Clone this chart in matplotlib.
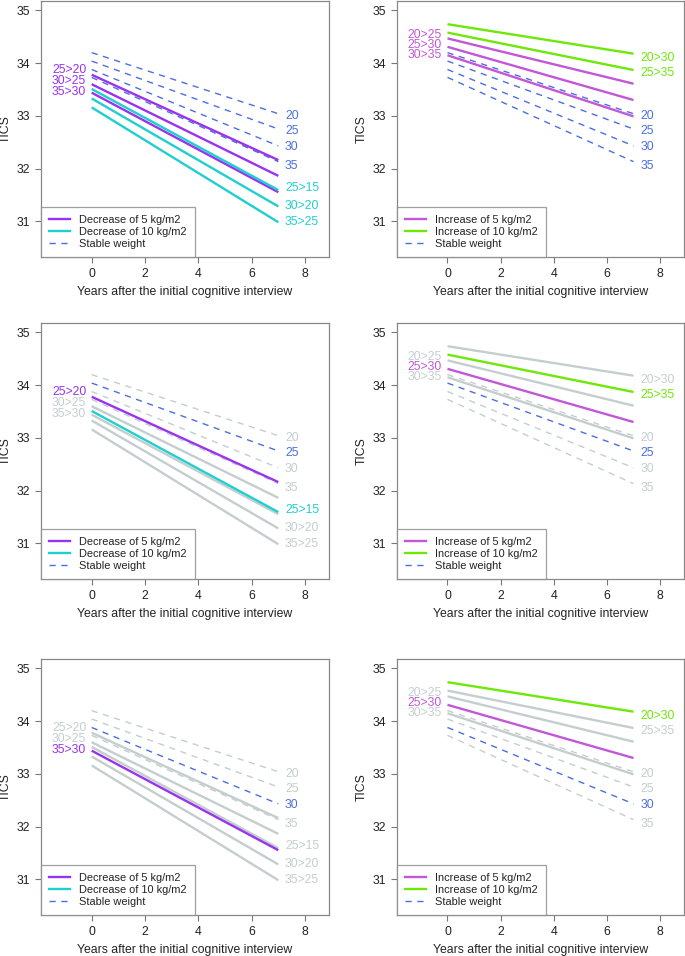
import matplotlib.pyplot as plt

plt.rcParams['font.family'] = ['Liberation Sans', 'DejaVu Sans']

# years of follow-up (start and end of each predicted line)
years = [0, 7]

# stable weight, BMI 20 / 25 / 30 / 35
stable_names = ["20", "25", "30", "35"]
stable_start = [34.20, 34.04, 33.88, 33.73]
stable_end = [33.04, 32.75, 32.43, 32.13]

# decrease of 5 kg/m2
dec5_names = ["25>20", "30>25", "35>30"]
dec5_start = [33.78, 33.60, 33.44]
dec5_end = [32.16, 31.86, 31.55]

# decrease of 10 kg/m2
dec10_names = ["25>15", "30>20", "35>25"]
dec10_start = [33.51, 33.33, 33.16]
dec10_end = [31.59, 31.28, 30.98]

# increase of 5 kg/m2
inc5_names = ["20>25", "25>30", "30>35"]
inc5_start = [34.47, 34.31, 34.15]
inc5_end = [33.61, 33.30, 32.99]

# increase of 10 kg/m2
inc10_names = ["20>30", "25>35"]
inc10_start = [34.74, 34.58]
inc10_end = [34.18, 33.87]

# where the text labels sit (y)
stable_lab_y = [33.00, 32.71, 32.41, 32.05]
dec5_lab_y = [33.87, 33.66, 33.46]
dec10_lab_y = [31.63, 31.28, 30.98]
inc5_lab_y = [34.54, 34.34, 34.15]
inc10_lab_y = [34.10, 33.82]

C_DEC5 = "#9933ee"
C_DEC10 = "#1fcfcf"
C_STABLE = "#4a6fe0"
C_INC5 = "#c257d8"
C_INC10 = "#6ee80a"
C_GRAY = "#c4cece"
FS = 8.8
LEG_FS = 7.9
LW = 1.7
DASH = (0, (4.5, 4))


def draw_panel(ax, groups, stable_hl, legend_items):
    # groups: list of (names, start, end, lab_y, color, side, highlighted-names)
    # gray stuff first so coloured lines end up on top
    for i, nm in enumerate(stable_names):
        col = C_STABLE if (stable_hl is None or nm in stable_hl) else C_GRAY
        ax.plot(years, [stable_start[i], stable_end[i]], color=col,
                lw=1.0, linestyle=DASH, zorder=2 if col == C_GRAY else 4)
        ax.text(7.25, stable_lab_y[i], nm, color=col, fontsize=FS,
                ha="left", va="center")

    for names, st, en, laby, color, side, hl in groups:
        for i, nm in enumerate(names):
            col = color if (hl is None or nm in hl) else C_GRAY
            ax.plot(years, [st[i], en[i]], color=col, lw=LW,
                    solid_capstyle="butt", zorder=3 if col == C_GRAY else 5)
            if side == "left":
                ax.text(-0.2, laby[i], nm, color=col, fontsize=FS,
                        ha="right", va="center")
            else:
                ax.text(7.25, laby[i], nm, color=col, fontsize=FS,
                        ha="left", va="center")

    ax.set_xlim(-1.9, 8.9)
    ax.set_ylim(30.32, 35.18)
    ax.set_xticks([0, 2, 4, 6, 8])
    ax.set_yticks([31, 32, 33, 34, 35])
    ax.tick_params(direction="out", length=4.5, width=0.8, color="#777777",
                   labelsize=FS, labelcolor="#222222", pad=3.5)
    for sp in ax.spines.values():
        sp.set_color("#888888")
        sp.set_linewidth(0.9)
    ax.set_xlabel("Years after the initial cognitive interview",
                  fontsize=FS, color="#222222", va="center")
    ax.set_ylabel("TICS", fontsize=FS, color="#222222", va="center")
    ax.xaxis.set_label_coords(0.5, -0.137)
    ax.yaxis.set_label_coords(-0.122, 0.5)

    handles = []
    for lab, col, ls, lw in legend_items:
        h, = ax.plot([], [], color=col, linestyle=ls, lw=lw, label=lab)
        handles.append(h)
    leg = ax.legend(handles=handles, loc="lower left", borderaxespad=0,
                    fontsize=LEG_FS, frameon=True, fancybox=False,
                    handlelength=1.9, handletextpad=0.9, borderpad=0.7,
                    labelspacing=0.2)
    leg.get_frame().set_edgecolor("#888888")
    leg.get_frame().set_linewidth(0.9)
    for t in leg.get_texts():
        t.set_color("#222222")


dec_legend = [("Decrease of 5 kg/m2", C_DEC5, "-", LW),
              ("Decrease of 10 kg/m2", C_DEC10, "-", LW),
              ("Stable weight", C_STABLE, DASH, 1.0)]
inc_legend = [("Increase of 5 kg/m2", C_INC5, "-", LW),
              ("Increase of 10 kg/m2", C_INC10, "-", LW),
              ("Stable weight", C_STABLE, DASH, 1.0)]

fig = plt.figure(figsize=(6.85, 9.56), dpi=100)

W, H = 685.0, 956.0
lefts = [41 / W, 397 / W]
widths = [288 / W, 287 / W]
bottoms = [1 - 257 / H, 1 - 579 / H, 1 - 915 / H]
height = 256 / H

# left column: decrease
hl_left = [(None, None, None), (["25>20"], ["25>15"], ["25"]),
           (["35>30"], [], ["30"])]
# right column: increase
hl_right = [(None, None, None), (["25>30"], ["25>35"], ["25"]),
            (["25>30"], ["20>30"], ["30"])]

for r in range(3):
    ax = fig.add_axes([lefts[0], bottoms[r], widths[0], height])
    h5, h10, hs = hl_left[r]
    draw_panel(ax,
               [(dec5_names, dec5_start, dec5_end, dec5_lab_y, C_DEC5, "left", h5),
                (dec10_names, dec10_start, dec10_end, dec10_lab_y, C_DEC10, "right", h10)],
               hs, dec_legend)

    ax = fig.add_axes([lefts[1], bottoms[r], widths[1], height])
    h5, h10, hs = hl_right[r]
    draw_panel(ax,
               [(inc5_names, inc5_start, inc5_end, inc5_lab_y, C_INC5, "left", h5),
                (inc10_names, inc10_start, inc10_end, inc10_lab_y, C_INC10, "right", h10)],
               hs, inc_legend)

fig.savefig("out.png", dpi=100)
